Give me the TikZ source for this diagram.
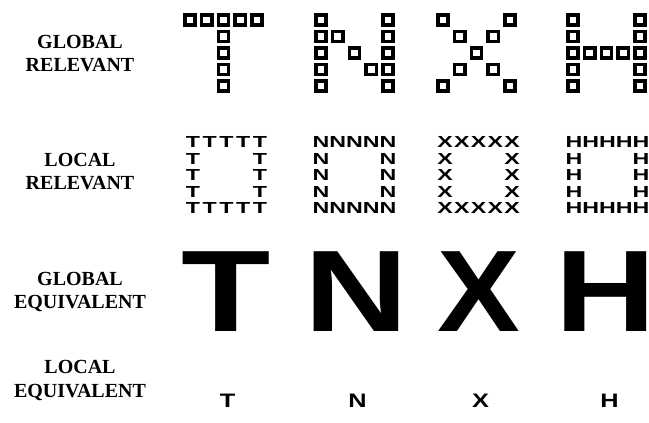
\documentclass[tikz,border=0pt]{standalone}
\usepackage{fontspec}
\setmainfont{Liberation Serif}
\newfontfamily\letterfont{Liberation Sans}
\usetikzlibrary{positioning}

\begin{document}
\begin{tikzpicture}[
    x=1pt, y=-1pt,
    rowlabel/.style={font=\fontsize{20}{23.5}\selectfont\bfseries, align=center, inner sep=0pt},
    cell/.style={draw, line width=3.4pt, minimum size=10.2pt, inner sep=0pt},
    gridletter/.style={font=\fontsize{16}{16}\selectfont\letterfont\bfseries, xscale=1.45, inner sep=0pt, text depth=0pt},
    bigletter/.style={font=\fontsize{116}{116}\selectfont\letterfont\bfseries, inner ysep=0pt, inner xsep=-6pt, text depth=0pt},
    tinyletter/.style={font=\fontsize{19.5}{19.5}\selectfont\letterfont\bfseries, xscale=1.3, inner sep=0pt, text depth=0pt}
]
    \useasboundingbox (0,0) rectangle (649,423);

    % Row labels
    \node[rowlabel] (globrel) at (80,53.5) {GLOBAL\\RELEVANT};
    \node[rowlabel] (locrel) at (80,171.5) {LOCAL\\RELEVANT};
    \node[rowlabel] (globeq) at (80,292) {GLOBAL\\EQUIVALENT};
    \node[rowlabel] (loceq) at (80,380.5) {LOCAL\\EQUIVALENT};

    % Global relevant: letters built from squares
    \foreach \c/\r in {0/0,1/0,2/0,3/0,4/0,2/1,2/2,2/3,2/4}
        \node[cell] (sqT-\c-\r) at ({190+16.75*\c},{20+16.5*\r}) {};
    \foreach \c/\r in {0/0,0/1,0/2,0/3,0/4,4/0,4/1,4/2,4/3,4/4,1/1,2/2,3/3}
        \node[cell] (sqN-\c-\r) at ({321+16.75*\c},{20+16.5*\r}) {};
    \foreach \c/\r in {0/0,4/0,1/1,3/1,2/2,1/3,3/3,0/4,4/4}
        \node[cell] (sqX-\c-\r) at ({443+16.75*\c},{20+16.5*\r}) {};
    \foreach \c/\r in {0/0,0/1,0/2,0/3,0/4,4/0,4/1,4/2,4/3,4/4,1/2,2/2,3/2}
        \node[cell] (sqH-\c-\r) at ({573+16.75*\c},{20+16.5*\r}) {};

    % Local relevant: small letters on the outline of a square
    \foreach \lx/\ltr in {193/T,321/N,445/X,574/H}
        \foreach \c/\r in {0/0,1/0,2/0,3/0,4/0,0/1,4/1,0/2,4/2,0/3,4/3,0/4,1/4,2/4,3/4,4/4}
            \node[gridletter] (lr\ltr-\c-\r) at ({\lx+16.75*\c},{142+16.6*\r}) {\ltr};

    % Global equivalent: large letters
    \foreach \ltr/\sx/\cx in {T/1.26/226.5,N/1.24/356.5,X/1.07/479,H/1.2/606}
        \node[bigletter, xscale=\sx] (ge\ltr) at (\cx,291.5) {\ltr};

    % Local equivalent: single small letters
    \foreach \ltr/\cx in {T/227.5,N/357.5,X/480.5,H/609.5}
        \node[tinyletter] (le\ltr) at (\cx,400.5) {\ltr};
\end{tikzpicture}
\end{document}
